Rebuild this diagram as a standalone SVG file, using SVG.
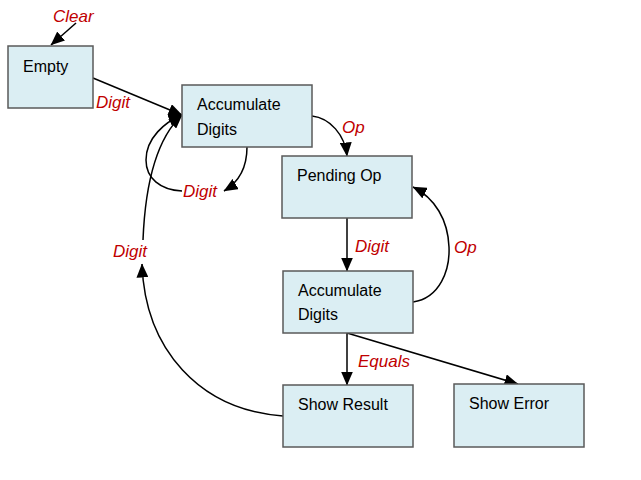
<svg xmlns="http://www.w3.org/2000/svg" width="641" height="480" viewBox="0 0 641 480">
<style>
.box{fill:#DBEEF3;stroke:#5A5A5A;stroke-width:1.5}
.t{font-family:"Liberation Sans",Arial,sans-serif;font-size:16px;fill:#000}
.lbl{font-family:"Liberation Sans",Arial,sans-serif;font-size:17px;font-style:italic;fill:#C00000}
.c{fill:none;stroke:#000;stroke-width:1.5}
.a{marker-end:url(#ah)}
</style>
<defs>
<marker id="ah" viewBox="0 0 14 12" refX="13.5" refY="6" markerWidth="14" markerHeight="12" markerUnits="userSpaceOnUse" orient="auto">
<path d="M0,0 L14,6 L0,12 z" fill="#000"/>
</marker>
</defs>
<rect width="641" height="480" fill="#fff"/>
<g id="connectors">
<path class="c a" d="M76,23 L51,45"/>
<path class="c a" d="M93,78 L182,115"/>
<path class="c a" d="M247,147 C247,168 239,182 224,191"/>
<path class="c a" d="M182,191 C160,190 146,178 146,160 C146,138 165,122 182,115"/>
<path class="c a" d="M283,416 C200,410 145,350 142,264"/>
<path class="c a" d="M143,240 C145,190 155,140 182,115"/>
<path class="c a" d="M312,116 C330,118 345,135 347,156"/>
<path class="c a" d="M347,218 L347,271"/>
<path class="c a" d="M413,302 C440,298 450,270 449,247 C448,220 435,198 413,187"/>
<path class="c a" d="M347,333 L347,385"/>
<path class="c a" d="M347,333 L518,384"/>
<text class="lbl" x="53" y="22">Clear</text>
<text class="lbl" x="96" y="108">Digit</text>
<text class="lbl" x="183" y="197">Digit</text>
<text class="lbl" x="113" y="257">Digit</text>
<text class="lbl" x="342" y="133">Op</text>
<text class="lbl" x="355" y="252">Digit</text>
<text class="lbl" x="454" y="253">Op</text>
<text class="lbl" x="358" y="367">Equals</text>
</g>
<g id="empty">
<rect class="box" x="8" y="46" width="85" height="62"/>
<text class="t" x="23" y="72">Empty</text>
</g>
<g id="accumulate1">
<rect class="box" x="182" y="85" width="130" height="62"/>
<text class="t" x="197" y="110">Accumulate</text>
<text class="t" x="197" y="135">Digits</text>
</g>
<g id="pending">
<rect class="box" x="282" y="156" width="130" height="62"/>
<text class="t" x="297" y="181">Pending Op</text>
</g>
<g id="accumulate2">
<rect class="box" x="283" y="271" width="130" height="62"/>
<text class="t" x="298" y="296">Accumulate</text>
<text class="t" x="298" y="320">Digits</text>
</g>
<g id="showresult">
<rect class="box" x="283" y="385" width="130" height="62"/>
<text class="t" x="298" y="410">Show Result</text>
</g>
<g id="showerror">
<rect class="box" x="454" y="384" width="130" height="63"/>
<text class="t" x="469" y="409">Show Error</text>
</g>
</svg>
